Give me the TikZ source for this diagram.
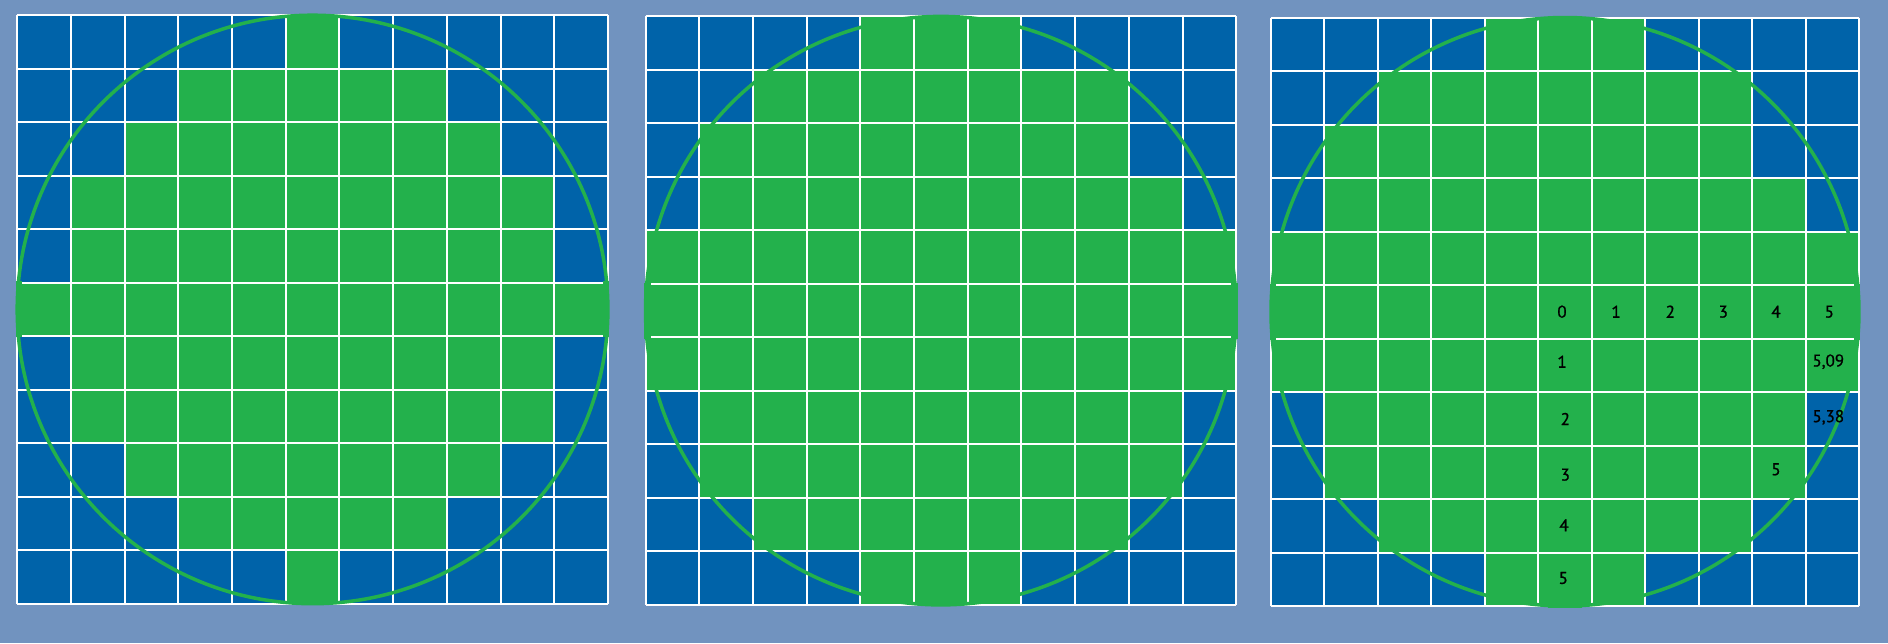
\documentclass[tikz,border=0pt]{standalone}
\usepackage{fontspec}
\setmainfont{PT Sans}
\newfontfamily\lblfont[FakeBold=0.9]{PT Sans}
\definecolor{bgc}{HTML}{7193BF}
\definecolor{cellblue}{HTML}{0063A9}
\definecolor{cellgreen}{HTML}{23B14C}
\tikzset{
  gridline/.style={white,line width=2pt},
  ring/.style={draw=cellgreen,line width=3.5pt},
  lbl/.style={font=\lblfont\fontsize{17}{20}\selectfont,text=black,inner sep=0pt}
}
\newcommand\drawpanel[5]{%
 \begin{scope}[shift={(#1,#2)}]
  \fill[cellblue] (0,0) rectangle ({11*#3},{11*#4});
  \foreach \r/\a/\b in {#5} {
    \fill[cellgreen] ({\a*#3},{\r*#4}) rectangle ({(\b+1)*#3},{(\r+1)*#4});
  }
  \foreach \i in {0,...,11} {
    \draw[gridline] ({\i*#3},0) -- ({\i*#3},{11*#4});
    \draw[gridline] (0,{\i*#4}) -- ({11*#3},{\i*#4});
  }
  \draw[ring] ({5.5*#3},{5.5*#4}) ellipse [x radius={5.5*#3*1pt}, y radius={5.5*#4*1pt}];
  \fill[cellgreen] ({5.5*#3-17},-1.5) rectangle ({5.5*#3+17},3);
  \fill[cellgreen] ({5.5*#3-17},{11*#4+1.5}) rectangle ({5.5*#3+17},{11*#4-3});
  \fill[cellgreen] (-1.5,{5.5*#4-28}) rectangle (5,{5.5*#4+28});
  \fill[cellgreen] ({11*#3+1.5},{5.5*#4-28}) rectangle ({11*#3-5},{5.5*#4+28});
 \end{scope}}
\begin{document}
\begin{tikzpicture}[x=1pt,y=-1pt]
\fill[bgc] (0,0) rectangle (1888,643);
\useasboundingbox (0,0) rectangle (1888,643);

\drawpanel{17.2}{15.2}{53.7}{53.5}{0/5/5,1/3/7,2/2/8,3/1/9,4/1/9,5/0/10,6/1/9,7/1/9,8/2/8,9/3/7,10/5/5}
\drawpanel{645.5}{16.4}{53.7}{53.5}{0/4/6,1/2/8,2/1/8,3/1/9,4/0/10,5/0/10,6/0/10,7/1/9,8/1/9,9/2/8,10/4/6}
\drawpanel{1271}{17.5}{53.45}{53.5}{0/4/6,1/2/8,2/1/8,3/1/9,4/0/10,5/0/10,6/0/10,7/1/9,8/1/9,9/2/8,10/4/6}

\node[lbl] (h0) at (1562,311.7) {0};
\node[lbl] (h1) at (1616,311.7) {1};
\node[lbl] (h2) at (1670.3,311.7) {2};
\node[lbl] (h3) at (1723.3,311.7) {3};
\node[lbl] (h4) at (1776,311.7) {4};
\node[lbl] (h5) at (1829.3,311.7) {5};
\node[lbl] (v1) at (1562,361.7) {1};
\node[lbl] (v2) at (1565.3,419) {2};
\node[lbl] (v3) at (1565.3,474.7) {3};
\node[lbl] (v4) at (1564,525.3) {4};
\node[lbl] (v5) at (1563.3,578) {5};
\node[lbl] (a1) at (1828.3,361.7) {5,09};
\node[lbl] (a2) at (1828.3,417.3) {5,38};
\node[lbl] (a3) at (1776,469.3) {5};
\end{tikzpicture}
\end{document}
